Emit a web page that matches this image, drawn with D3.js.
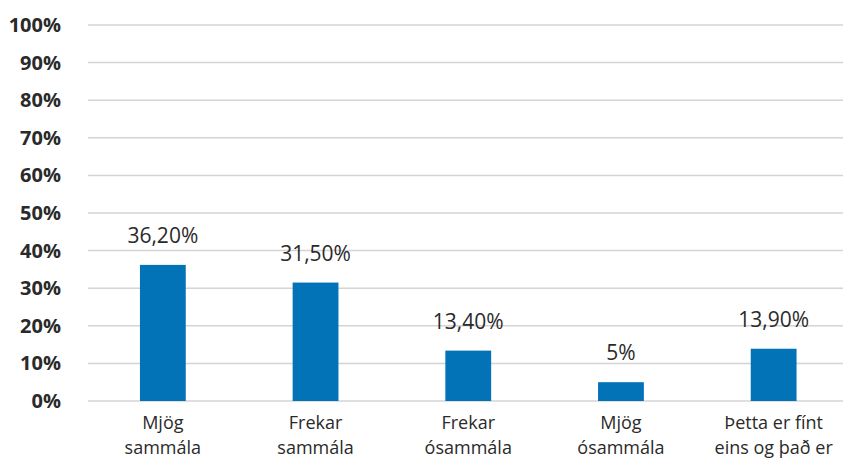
<!DOCTYPE html>
<html>
<head>
<meta charset="utf-8">
<script src="https://cdn.jsdelivr.net/npm/d3@7"></script>
<style>
  body { margin: 0; background: #fff; }
  .svg-container { width: 843px; height: 459px; }
  text { font-family: "Open Sans", sans-serif; fill: #2a2a2a; }
</style>
</head>
<body>
<div class="svg-container"></div>
<script>
// data
const categories = [
  ["Mjög", "sammála"],
  ["Frekar", "sammála"],
  ["Frekar", "ósammála"],
  ["Mjög", "ósammála"],
  ["Þetta er fínt", "eins og það er"]
];
const values = [36.2, 31.5, 13.4, 5, 13.9];
const valueLabels = ["36,20%", "31,50%", "13,40%", "5%", "13,90%"];
const yTicks = [0, 10, 20, 30, 40, 50, 60, 70, 80, 90, 100];

const w = 843, h = 459;
const plotLeft = 88, plotRight = 843, plotTop = 25, plotBottom = 401;

const svg = d3.select(".svg-container")
  .append("svg")
  .attr("width", w)
  .attr("height", h);

// category bands run a little past the right edge in the original
const xScale = d3.scaleBand()
  .domain(d3.range(categories.length))
  .range([86.5, 850])
  .paddingInner(0.7)
  .paddingOuter(0.35);

const yScale = d3.scaleLinear()
  .domain([0, 100])
  .range([plotBottom, plotTop]);

// gridlines
svg.append("g")
  .selectAll("line")
  .data(yTicks)
  .enter()
  .append("line")
  .attr("x1", plotLeft)
  .attr("x2", plotRight)
  .attr("y1", d => yScale(d))
  .attr("y2", d => yScale(d))
  .attr("stroke", "#d4d4d4")
  .attr("stroke-width", 1.5);

// y axis labels
const yAxis = d3.axisLeft(yScale)
  .tickValues(yTicks)
  .tickFormat(d => d + "%")
  .tickSize(0)
  .tickPadding(0);

const yg = svg.append("g")
  .attr("transform", "translate(61,0)")
  .call(yAxis);
yg.select(".domain").remove();
yg.selectAll("text")
  .attr("font-family", "Open Sans, sans-serif")
  .attr("font-size", 20)
  .attr("font-weight", "bold")
  .attr("fill", "#222");

// bars
svg.selectAll("rect.bar")
  .data(values)
  .enter()
  .append("rect")
  .attr("class", "bar")
  .attr("x", (d, i) => xScale(i))
  .attr("y", d => yScale(d))
  .attr("width", xScale.bandwidth())
  .attr("height", d => yScale(0) - yScale(d))
  .attr("fill", "#0173b6");

// value labels
svg.selectAll("text.val")
  .data(values)
  .enter()
  .append("text")
  .attr("class", "val")
  .attr("x", (d, i) => xScale(i) + xScale.bandwidth() / 2)
  .attr("y", d => yScale(d) - 22)
  .attr("text-anchor", "middle")
  .attr("font-size", 21)
  .text((d, i) => valueLabels[i]);

// category labels, one text per line
categories.forEach(function(lines, i) {
  svg.selectAll(null)
    .data(lines)
    .enter()
    .append("text")
    .attr("class", "cat")
    .attr("text-anchor", "middle")
    .attr("font-size", 18)
    .attr("x", xScale(i) + xScale.bandwidth() / 2)
    .attr("y", (d, j) => 429 + j * 25)
    .text(d => d);
});
</script>
</body>
</html>
